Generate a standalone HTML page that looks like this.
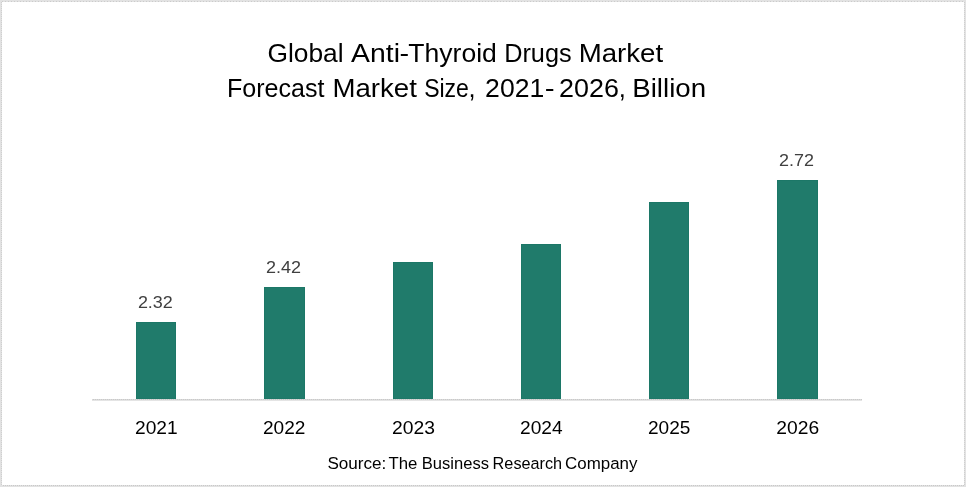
<!DOCTYPE html>
<html lang="en">
<head>
<meta charset="utf-8">
<title>Global Anti-Thyroid Drugs Market</title>
<style>
  html, body { margin: 0; padding: 0; background: #ffffff; }
  body { width: 966px; height: 487px; overflow: hidden; position: relative; font-family: "Liberation Sans", sans-serif; }
  svg { position: absolute; left: 0; top: 0; display: block; }
  text { font-family: "Liberation Sans", sans-serif; }
  .title { font-size: 25.5px; fill: #000000; }
  .axis { font-size: 18.4px; fill: #000000; }
  .val { font-size: 16.9px; fill: #404040; }
  .src { font-size: 17.1px; fill: #000000; }
</style>
</head>
<body>
<svg width="966" height="487" viewBox="0 0 966 487">
  <rect x="0" y="0" width="966" height="487" fill="#ffffff"/>
  <!-- outer frame -->
  <defs>
    <pattern id="dotH" x="0" y="0" width="3" height="1" patternUnits="userSpaceOnUse"><rect x="2" y="0" width="1" height="1" fill="#cbcbcb"/></pattern>
    <pattern id="dotV" x="0" y="0" width="1" height="2" patternUnits="userSpaceOnUse"><rect x="0" y="0" width="1" height="1" fill="#cfcfcf"/></pattern>
    <pattern id="dotB" x="0" y="0" width="2" height="1" patternUnits="userSpaceOnUse"><rect x="1" y="0" width="1" height="1" fill="#c9c9c9"/></pattern>
  </defs>
  <g shape-rendering="crispEdges">
    <rect x="0" y="0" width="966" height="2" fill="#e2e2e2"/>
    <rect x="0" y="485" width="966" height="2" fill="#e2e2e2"/>
    <rect x="0" y="0" width="2" height="487" fill="#e2e2e2"/>
    <rect x="964" y="0" width="2" height="487" fill="#e2e2e2"/>
    <rect x="2" y="1" width="962" height="1" fill="url(#dotH)"/>
    <rect x="2" y="485" width="962" height="1" fill="url(#dotB)"/>
    <rect x="1" y="2" width="1" height="483" fill="url(#dotV)"/>
    <rect x="964" y="2" width="1" height="483" fill="url(#dotV)"/>
  </g>

  <!-- bars -->
  <g fill="#207b6b" stroke="#1c7767" stroke-width="1">
    <rect x="136.5" y="322.5" width="39" height="76.5"/>
    <rect x="264.5" y="287.5" width="40" height="111.5"/>
    <rect x="393.5" y="262.5" width="39" height="136.5"/>
    <rect x="521.5" y="244.5" width="39" height="154.5"/>
    <rect x="649.5" y="202.5" width="39" height="196.5"/>
    <rect x="777.5" y="180.5" width="40" height="218.5"/>
  </g>

  <!-- axis line -->
  <g shape-rendering="crispEdges">
    <rect x="92" y="399" width="770" height="1" fill="#dadada"/>
    <rect x="92" y="399" width="770" height="1" fill="url(#dotB)"/>
    <rect x="92" y="400" width="770" height="1" fill="#e4e4e4"/>
  </g>

  <!-- text -->
  <text class="title" y="62"><tspan x="267.50" textLength="76.12" lengthAdjust="spacingAndGlyphs">Global</tspan> <tspan x="351.13" textLength="48.88" lengthAdjust="spacingAndGlyphs">Anti</tspan><tspan x="399.61" textLength="9.61" lengthAdjust="spacingAndGlyphs">-</tspan><tspan x="408.32" textLength="88.52" lengthAdjust="spacingAndGlyphs">Thyroid</tspan> <tspan x="504.21" textLength="67.43" lengthAdjust="spacingAndGlyphs">Drugs</tspan> <tspan x="578.67" textLength="84.50" lengthAdjust="spacingAndGlyphs">Market</tspan></text>
  <text class="title" y="97"><tspan x="226.96" textLength="97.49" lengthAdjust="spacingAndGlyphs">Forecast</tspan> <tspan x="332.45" textLength="84.44" lengthAdjust="spacingAndGlyphs">Market</tspan> <tspan x="424.13" textLength="44.79" lengthAdjust="spacingAndGlyphs">Size</tspan><tspan x="468.59">,</tspan> <tspan x="485.13" textLength="59.11" lengthAdjust="spacingAndGlyphs">2021</tspan><tspan x="544.71" textLength="9.88" lengthAdjust="spacingAndGlyphs">-</tspan> <tspan x="559.07" textLength="59.81" lengthAdjust="spacingAndGlyphs">2026</tspan><tspan x="618.64">,</tspan> <tspan x="632.25" textLength="73.83" lengthAdjust="spacingAndGlyphs">Billion</tspan></text>
  <text class="val" y="308"><tspan x="137.90" textLength="34.92" lengthAdjust="spacingAndGlyphs">2.32</tspan></text>
  <text class="val" y="273"><tspan x="265.91" textLength="35.02" lengthAdjust="spacingAndGlyphs">2.42</tspan></text>
  <text class="val" y="166"><tspan x="778.91" textLength="34.96" lengthAdjust="spacingAndGlyphs">2.72</tspan></text>
  <text class="axis" y="434"><tspan x="135.06" textLength="42.63" lengthAdjust="spacingAndGlyphs">2021</tspan></text>
  <text class="axis" y="434"><tspan x="263.00" textLength="42.41" lengthAdjust="spacingAndGlyphs">2022</tspan></text>
  <text class="axis" y="434"><tspan x="392.00" textLength="42.91" lengthAdjust="spacingAndGlyphs">2023</tspan></text>
  <text class="axis" y="434"><tspan x="520.00" textLength="42.56" lengthAdjust="spacingAndGlyphs">2024</tspan></text>
  <text class="axis" y="434"><tspan x="648.00" textLength="42.39" lengthAdjust="spacingAndGlyphs">2025</tspan></text>
  <text class="axis" y="434"><tspan x="776.29" textLength="42.86" lengthAdjust="spacingAndGlyphs">2026</tspan></text>
  <text class="src" y="469"><tspan x="327.42" textLength="58.90" lengthAdjust="spacingAndGlyphs">Source:</tspan> <tspan x="388.45" textLength="28.90" lengthAdjust="spacingAndGlyphs">The</tspan> <tspan x="421.76" textLength="67.21" lengthAdjust="spacingAndGlyphs">Business</tspan> <tspan x="492.62" textLength="69.54" lengthAdjust="spacingAndGlyphs">Research</tspan> <tspan x="565.05" textLength="72.42" lengthAdjust="spacingAndGlyphs">Company</tspan></text>
</svg>
</body>
</html>
